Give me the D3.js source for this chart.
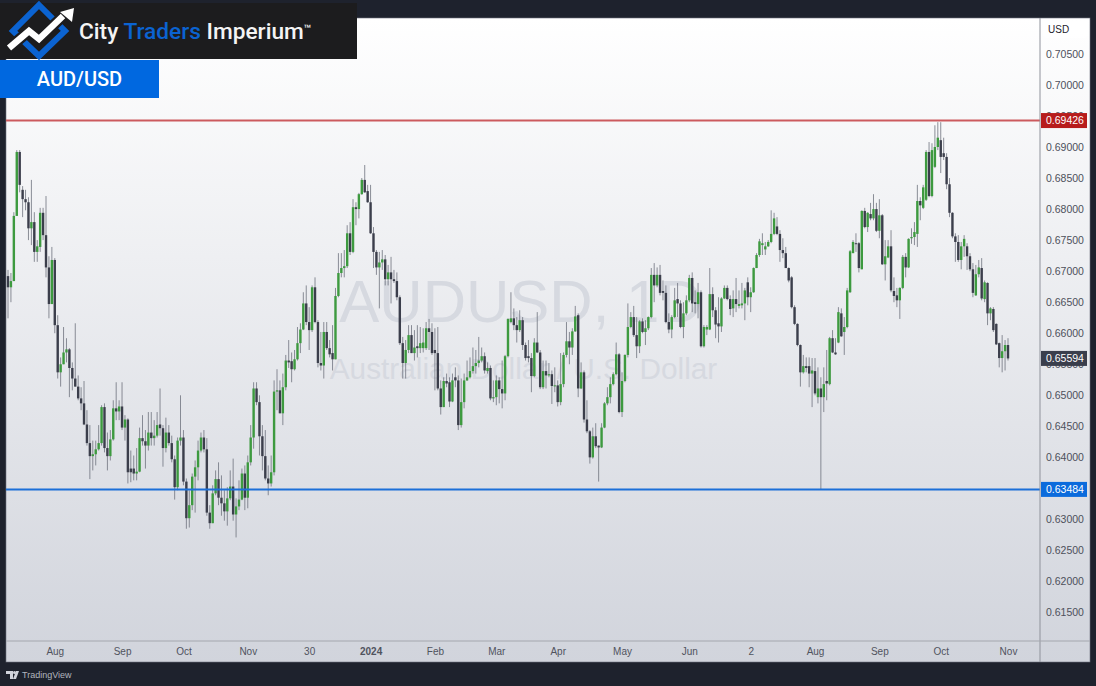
<!DOCTYPE html>
<html>
<head>
<meta charset="utf-8">
<title>AUD/USD</title>
<script src="https://d3js.org/d3.v7.min.js" charset="utf-8"></script>
<style>
  html, body { margin: 0; padding: 0; background: #1e222d; }
  svg { display: block; }
  text { font-family: "Liberation Sans", sans-serif; }
</style>
</head>
<body>
<div id="chart"></div>

<script>
// daily candles, prices in pips (1/10000), one row per calendar month
const startDay = "2023-07-10";
const endDay = "2024-11-02"; // exclusive
const closedDays = ["2023-12-25", "2024-01-01"];

const opens = [
  6692,6674,6684,6789,6892,6831,6816,6811,6769,6779,6731,6739,6794,6758,6706,6647,
  6718,6613,6537,6550,6569,6574,6544,6527,6514,6495,6487,6453,6423,6402,6405,6413,6423,6481,6415,6402,6429,6479,6474,
  6482,6448,6461,6382,6382,6374,6377,6431,6426,6419,6440,6431,6435,6453,6447,6415,6440,6423,6397,6352,6427,
  6432,6361,6302,6323,6369,6384,6411,6432,6413,6311,6294,6342,6365,6335,6326,6313,6334,6353,6308,6321,6332,6374,
  6335,6392,6432,6511,6489,6434,6402,6366,6358,6376,6506,6508,6471,6513,6556,6555,6542,6558,6584,6606,6648,6618,
  6605,6674,6618,6552,6548,6602,6576,6568,6558,6660,6697,6705,6708,6761,6731,6803,6800,6824,6847,6829,
  6811,6761,6731,6706,6714,6719,6687,6698,6687,6684,6658,6584,6552,6573,6597,6568,6579,6576,6576,6576,6608,6602,
  6573,6568,6511,6481,6523,6521,6490,6529,6524,6452,6489,6524,6529,6539,6547,6552,6556,6563,6539,6544,6495,
  6497,6524,6510,6503,6563,6618,6624,6613,6605,6621,6581,6563,6560,6531,6585,6569,6513,6539,6532,6534,6515,
  6516,6489,6518,6565,6587,6577,6603,6629,6511,6537,6461,6442,6400,6434,6419,6416,6448,6487,6497,6518,6534,6566,
  6473,6523,6565,6610,6626,6597,6579,6619,6602,6608,6626,6694,6677,6694,6668,6665,6618,6606,6626,6655,6648,6610,6632,
  6653,6689,6650,6647,6666,6579,6606,6606,6663,6637,6616,6611,6656,6673,6655,6640,6655,6644,6645,6648,
  6682,6658,6666,6705,6726,6742,6735,6740,6747,6760,6772,6760,6734,6729,6705,6690,6642,6615,6581,6537,6547,6547,6535,
  6539,6497,6511,6497,6523,6518,6592,6569,6585,6632,6602,6610,6666,6729,6745,6745,6703,6797,6771,6792,6785,6800,
  6765,6790,6711,6722,6740,6668,6661,6653,6673,6723,6706,6753,6755,6760,6813,6802,6815,6892,6821,6868,6900,
  6911,6890,6884,6840,6794,6756,6747,6718,6740,6740,6724,6703,6661,6695,6705,6655,6681,6632,6639,6615,6584,6560,6571,
  6581
];
const highs = [
  6702,6697,6795,6895,6895,6837,6831,6819,6847,6795,6750,6802,6802,6821,6724,6739,
  6721,6629,6561,6610,6592,6576,6553,6616,6532,6513,6523,6476,6452,6427,6427,6452,6484,6487,6440,6444,6492,6521,6492,
  6521,6468,6463,6411,6403,6415,6448,6468,6444,6473,6473,6460,6473,6511,6452,6464,6452,6435,6403,6432,6500,
  6444,6366,6347,6374,6395,6427,6440,6444,6431,6323,6355,6379,6392,6371,6347,6352,6379,6398,6334,6363,6382,6387,
  6403,6452,6521,6521,6500,6452,6444,6387,6403,6524,6542,6524,6535,6565,6589,6569,6573,6610,6616,6666,6677,6642,
  6677,6690,6621,6602,6618,6618,6589,6613,6673,6729,6729,6734,6774,6779,6816,6811,6826,6850,6871,6839,
  6839,6771,6734,6731,6734,6726,6710,6723,6702,6698,6661,6594,6589,6613,6613,6605,6613,6610,6608,6618,6623,6616,
  6608,6610,6524,6529,6535,6529,6535,6545,6532,6527,6535,6556,6561,6577,6573,6594,6577,6569,6553,6548,6524,
  6532,6529,6556,6565,6624,6666,6640,6626,6637,6626,6585,6589,6568,6592,6634,6573,6556,6556,6552,6540,6545,
  6524,6568,6569,6618,6602,6608,6644,6632,6553,6540,6492,6444,6448,6455,6419,6455,6489,6513,6529,6537,6585,6568,
  6537,6566,6648,6634,6644,6626,6621,6624,6621,6627,6705,6713,6706,6710,6685,6677,6632,6629,6673,6681,6653,6650,6661,
  6694,6698,6669,6681,6669,6613,6613,6705,6674,6642,6658,6658,6677,6677,6661,6669,6689,6669,6681,6673,
  6690,6674,6706,6729,6752,6761,6747,6750,6798,6794,6787,6766,6753,6739,6706,6692,6645,6616,6582,6565,6561,6561,6560,
  6560,6545,6529,6545,6573,6594,6605,6592,6642,6640,6626,6673,6734,6750,6761,6747,6798,6802,6795,6810,6824,6810,
  6816,6792,6750,6750,6766,6690,6673,6674,6726,6729,6753,6769,6779,6839,6819,6839,6895,6908,6906,6935,6940,
  6940,6915,6890,6850,6795,6761,6758,6747,6758,6745,6729,6713,6710,6718,6721,6685,6682,6642,6642,6616,6585,6597,6589,
  6592
];
const lows = [
  6624,6650,6684,6789,6827,6787,6798,6750,6742,6715,6715,6731,6750,6690,6624,6647,
  6600,6527,6514,6550,6553,6497,6508,6514,6492,6476,6452,6419,6365,6379,6387,6411,6419,6408,6379,6395,6427,6460,6460,
  6444,6427,6358,6360,6363,6363,6376,6419,6382,6411,6419,6419,6432,6435,6385,6408,6419,6392,6332,6347,6419,
  6355,6285,6287,6315,6311,6363,6408,6408,6306,6285,6294,6339,6323,6306,6298,6290,6331,6298,6271,6315,6331,6315,
  6318,6387,6414,6484,6403,6379,6363,6339,6353,6371,6476,6471,6452,6508,6544,6521,6540,6556,6568,6605,6613,6573,
  6602,6616,6545,6540,6527,6573,6561,6540,6558,6658,6690,6690,6705,6726,6729,6774,6785,6823,6826,6810,
  6760,6705,6694,6640,6702,6677,6677,6648,6681,6653,6581,6527,6527,6568,6568,6556,6561,6568,6569,6573,6573,6565,
  6508,6508,6469,6481,6513,6481,6489,6513,6444,6448,6479,6523,6527,6535,6535,6545,6553,6535,6535,6492,6489,
  6484,6487,6479,6492,6561,6616,6605,6585,6602,6573,6556,6553,6505,6529,6568,6510,6510,6511,6529,6486,6505,
  6482,6484,6513,6561,6550,6565,6602,6497,6510,6456,6439,6390,6398,6415,6361,6415,6447,6484,6487,6516,6532,6471,
  6465,6521,6561,6608,6594,6560,6568,6600,6581,6605,6624,6650,6674,6661,6653,6616,6600,6592,6624,6626,6608,6592,6629,
  6650,6634,6632,6624,6577,6577,6597,6605,6626,6592,6585,6602,6655,6653,6629,6626,6634,6640,6640,6621,
  6645,6634,6665,6705,6723,6726,6726,6739,6745,6758,6758,6715,6721,6705,6682,6640,6613,6579,6514,6535,6537,6513,6481,
  6500,6487,6348,6473,6492,6516,6568,6565,6584,6594,6565,6608,6665,6729,6731,6698,6703,6769,6763,6782,6782,6763,
  6753,6710,6685,6721,6666,6650,6642,6623,6671,6690,6705,6744,6742,6739,6782,6800,6813,6819,6819,6866,6895,
  6858,6879,6832,6787,6753,6715,6715,6703,6723,6702,6700,6658,6660,6690,6653,6650,6613,6621,6602,6581,6545,6537,6540,
  6556
];
const closes = [
  6674,6684,6789,6892,6839,6816,6811,6769,6779,6731,6740,6794,6758,6706,6647,6718,
  6613,6537,6550,6569,6574,6544,6527,6514,6495,6487,6453,6423,6402,6405,6413,6423,6481,6415,6402,6429,6479,6474,6482,
  6448,6461,6376,6376,6374,6377,6431,6426,6419,6440,6431,6435,6452,6447,6415,6440,6423,6397,6352,6427,6432,
  6361,6302,6323,6369,6384,6411,6432,6413,6311,6294,6342,6365,6335,6326,6313,6334,6353,6308,6321,6332,6374,6335,
  6392,6432,6511,6489,6434,6402,6366,6358,6376,6506,6508,6471,6513,6556,6553,6542,6558,6584,6606,6648,6618,6605,
  6674,6618,6552,6548,6602,6576,6566,6558,6660,6697,6705,6708,6761,6731,6803,6800,6824,6847,6827,6811,
  6761,6731,6706,6714,6719,6687,6698,6687,6684,6658,6584,6552,6573,6597,6568,6577,6576,6584,6585,6608,6602,6568,
  6568,6511,6481,6523,6519,6490,6524,6524,6452,6489,6524,6529,6539,6547,6552,6556,6563,6540,6544,6495,6497,
  6524,6510,6503,6563,6623,6624,6613,6605,6621,6581,6560,6560,6531,6585,6569,6513,6539,6532,6534,6515,6516,
  6489,6518,6565,6587,6577,6603,6627,6511,6537,6461,6442,6400,6434,6418,6416,6448,6487,6497,6518,6534,6566,6473,
  6523,6565,6610,6626,6597,6579,6619,6602,6608,6626,6694,6677,6694,6665,6665,6618,6606,6626,6653,6648,6610,6632,6653,
  6689,6648,6647,6666,6579,6610,6610,6663,6637,6614,6611,6656,6673,6655,6639,6655,6647,6647,6648,6669,
  6658,6666,6705,6726,6748,6745,6740,6747,6760,6785,6760,6734,6729,6705,6685,6642,6615,6581,6537,6547,6544,6535,6540,
  6503,6511,6497,6518,6519,6592,6569,6566,6634,6595,6610,6669,6732,6747,6744,6705,6797,6771,6794,6785,6800,6765,
  6790,6711,6724,6740,6669,6660,6653,6673,6723,6706,6752,6755,6763,6813,6806,6835,6892,6821,6895,6900,6915,
  6884,6884,6840,6794,6756,6747,6718,6740,6752,6724,6703,6665,6695,6706,6656,6682,6632,6640,6605,6582,6560,6571,6581,
  6559.4
];

const priceTicks = [0.705,0.70,0.695,0.69,0.685,0.68,0.675,0.67,0.665,0.66,0.655,0.65,0.645,0.64,0.635,0.63,0.625,0.62,0.615];
const timeTicks = ["2023-08-01","2023-09-01","2023-10-02","2023-11-01","2023-11-30","2024-01-02","2024-02-01","2024-03-01","2024-04-01","2024-05-01","2024-06-03","2024-07-02","2024-08-01","2024-09-02","2024-10-01","2024-11-01"];
const timeLabels = ["Aug","Sep","Oct","Nov","30","2024","Feb","Mar","Apr","May","Jun","2","Aug","Sep","Oct","Nov"];

const resistance = 0.69426;
const support = 0.63484;
const lastPrice = 0.65594;

const W = 1096, H = 686;
const pane = { left: 6, right: 1090, top: 18, bottom: 662 };
const axisX = 1040, axisY = 641;

const upColor = "#3d9a3f", downColor = "#3b3e4b", wickColor = "#6f727d";

const fmtDay = d3.utcFormat("%Y-%m-%d");
const days = d3.utcDay.range(new Date(startDay), new Date(endDay))
  .filter((d) => d.getUTCDay() % 6 !== 0)
  .map(fmtDay)
  .filter((d) => !closedDays.includes(d));
if (days.length !== closes.length || opens.length !== closes.length || highs.length !== closes.length || lows.length !== closes.length) {
  throw new Error(`lengths ${days.length} ${opens.length} ${highs.length} ${lows.length} ${closes.length}`);
}

const x = d3.scalePoint().domain(days).range([8, 1008]);
const y = d3.scaleLinear().domain([0.69, 0.65]).range([147, 395.3]);

const svg = d3.select("#chart").append("svg").attr("width", W).attr("height", H);

const grad = svg.append("defs").append("linearGradient")
  .attr("id", "paneBg").attr("x1", 0).attr("x2", 0).attr("y1", 0).attr("y2", 1);
grad.append("stop").attr("offset", "0%").attr("stop-color", "#ffffff");
grad.append("stop").attr("offset", "100%").attr("stop-color", "#d1d4dc");

svg.append("rect").attr("width", W).attr("height", H).attr("fill", "#1e222d");
svg.append("rect")
  .attr("x", pane.left).attr("y", pane.top)
  .attr("width", pane.right - pane.left).attr("height", pane.bottom - pane.top)
  .attr("fill", "url(#paneBg)").attr("stroke", "#70747f").attr("stroke-width", 0.6);

// watermark
svg.append("text").text("AUDUSD, 1D")
  .attr("x", 521).attr("y", 322).attr("text-anchor", "middle")
  .attr("font-size", 60).attr("fill", "#d6d9e0");
svg.append("text").text("Australian Dollar / U.S. Dollar")
  .attr("x", 523.5).attr("y", 379).attr("text-anchor", "middle")
  .attr("font-size", 29.8).attr("fill", "#d6d9e0");

// candles
const candles = d3.range(days.length);
svg.append("g").attr("class", "wicks").selectAll("line").data(candles).join("line")
  .attr("x1", (i) => x(days[i])).attr("x2", (i) => x(days[i]))
  .attr("y1", (i) => y(highs[i] / 1e4)).attr("y2", (i) => y(lows[i] / 1e4))
  .attr("stroke", wickColor).attr("stroke-width", 0.8);
svg.append("g").attr("class", "bodies").selectAll("rect").data(candles).join("rect")
  .attr("x", (i) => x(days[i]) - 1.2).attr("width", 2.4)
  .attr("y", (i) => y(Math.max(opens[i], closes[i]) / 1e4))
  .attr("height", (i) => Math.max(1, Math.abs(y(opens[i] / 1e4) - y(closes[i] / 1e4))))
  .attr("fill", (i) => closes[i] >= opens[i] ? upColor : downColor);

// levels
svg.append("line").attr("x1", pane.left).attr("x2", axisX)
  .attr("y1", y(resistance)).attr("y2", y(resistance))
  .attr("stroke", "#cc5a5e").attr("stroke-width", 2);
svg.append("line").attr("x1", pane.left).attr("x2", axisX)
  .attr("y1", y(support)).attr("y2", y(support))
  .attr("stroke", "#1b6fd8").attr("stroke-width", 2);

// axes
svg.append("line").attr("x1", axisX).attr("x2", axisX).attr("y1", pane.top).attr("y2", pane.bottom)
  .attr("stroke", "#8f929b").attr("stroke-width", 1);
svg.append("line").attr("x1", pane.left).attr("x2", pane.right).attr("y1", axisY).attr("y2", axisY)
  .attr("stroke", "#a4a7ae").attr("stroke-width", 1);

const yAxis = svg.append("g").attr("transform", `translate(${axisX},0)`)
  .call(d3.axisRight(y).tickValues(priceTicks).tickFormat(d3.format(".5f")).tickSize(0).tickPadding(6));
yAxis.select(".domain").remove();
yAxis.selectAll("text").attr("font-size", 10.5).attr("fill", "#4d505b").attr("font-family", "Liberation Sans");

const xAxis = svg.append("g").attr("transform", `translate(0,${axisY})`)
  .call(d3.axisBottom(x).tickValues(timeTicks).tickFormat((d) => timeLabels[timeTicks.indexOf(d)]).tickSize(0).tickPadding(7));
xAxis.select(".domain").remove();
xAxis.selectAll("text").attr("font-size", 10).attr("fill", "#50535e").attr("font-family", "Liberation Sans")
  .attr("font-weight", (d) => d === "2024-01-02" ? 700 : 400);

// USD box
svg.append("rect").attr("x", 1043).attr("y", 21).attr("width", 45).attr("height", 17).attr("rx", 3)
  .attr("fill", "#ffffff").attr("fill-opacity", 0.6);
svg.append("text").text("USD").attr("x", 1048).attr("y", 33).attr("font-size", 10).attr("fill", "#1e222d");

// price tags
const tags = [
  { value: resistance, fill: "#b71c1c" },
  { value: lastPrice, fill: "#3a3e4c" },
  { value: support, fill: "#0b6bdc" }
];
const tag = svg.append("g").selectAll("g").data(tags).join("g")
  .attr("transform", (d) => `translate(${axisX + 1},${y(d.value)})`);
tag.append("rect").attr("x", 0).attr("y", -7.5).attr("width", 46).attr("height", 15).attr("fill", (d) => d.fill);
tag.append("text").text((d) => d3.format(".5f")(d.value))
  .attr("x", 5).attr("y", 3.8).attr("font-size", 10.5).attr("fill", "#ffffff");

// logo banner
const logo = svg.append("g");
logo.append("rect").attr("x", 0).attr("y", 3).attr("width", 357).attr("height", 56).attr("fill", "#1c1c1e");
logo.append("path").attr("d", "M39 5 L65 31 L39 56 L13 31 Z")
  .attr("fill", "none").attr("stroke", "#0b63d1").attr("stroke-width", 6);
logo.append("path").attr("d", "M9 48 L29 31 L39 39 L61 18")
  .attr("fill", "none").attr("stroke", "#1c1c1e").attr("stroke-width", 11);
logo.append("path").attr("d", "M9 48 L29 31 L39 39 L63 16")
  .attr("fill", "none").attr("stroke", "#ffffff").attr("stroke-width", 6.5);
logo.append("path").attr("d", "M60 12 L74 8 L72 22 Z").attr("fill", "#ffffff");

const brand = logo.append("text").attr("x", 79).attr("y", 39)
  .attr("font-size", 22.7).attr("font-weight", 500).attr("fill", "#f4f4f4")
  .style("font-family", "Roboto");
brand.append("tspan").text("City ");
brand.append("tspan").text("Traders ").attr("fill", "#0b63d1");
brand.append("tspan").text("Imperium");
brand.append("tspan").text("™").attr("font-size", 12).attr("dy", -6);

svg.append("rect").attr("x", 0).attr("y", 60).attr("width", 159).attr("height", 38).attr("fill", "#0068e0");
svg.append("text").text("AUD/USD").attr("x", 79.5).attr("y", 86).attr("text-anchor", "middle")
  .attr("font-size", 20).attr("font-weight", 500).attr("fill", "#ffffff").style("font-family", "Roboto");

// footer
const tv = svg.append("g").attr("fill", "#d1d4dc");
tv.append("path").attr("d", "M6 671 H13 V679 H10 V674 H6 Z");
tv.append("circle").attr("cx", 14.5).attr("cy", 672.5).attr("r", 1.5);
tv.append("path").attr("d", "M16 671 H19 L16 679 H13 Z");
svg.append("text").text("TradingView").attr("x", 22).attr("y", 678)
  .attr("font-size", 9).attr("fill", "#b2b5be");
</script>
</body>
</html>
